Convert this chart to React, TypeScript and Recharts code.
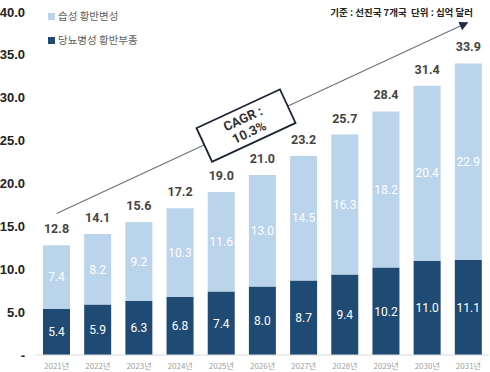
import React from 'react';
import { BarChart, Bar, XAxis, YAxis, LabelList, ReferenceLine } from 'recharts';

const years = ['2021년', '2022년', '2023년', '2024년', '2025년', '2026년', '2027년', '2028년', '2029년', '2030년', '2031년'];
const dmeValues = [5.4, 5.9, 6.3, 6.8, 7.4, 8.0, 8.7, 9.4, 10.2, 11.0, 11.1];
const amdValues = [7.4, 8.2, 9.2, 10.3, 11.6, 13.0, 14.5, 16.3, 18.2, 20.4, 22.9];
const totals = [12.8, 14.1, 15.6, 17.2, 19.0, 21.0, 23.2, 25.7, 28.4, 31.4, 33.9];
const yTicks = [0, 5, 10, 15, 20, 25, 30, 35, 40];
const trendStartValue = 16.5;
const trendEndValue = 38.8;
const cagrLines = ['CAGR :', '10.3%'];
const legendNames = ['습성 황반변성', '당뇨병성 황반부종'];
const noteText = '기준 : 선진국 7개국  단위 : 십억 달러';

const LIGHT = '#bad4ec';
const NAVY = '#1f4a73';
const KR = '"Noto Sans CJK KR", "Noto Sans", sans-serif';
const NUM = 'Roboto, "Noto Sans", sans-serif';

const data = years.map((year, i) => ({
  year,
  dme: dmeValues[i],
  amd: amdValues[i],
  total: totals[i],
}));

const TrendArrow = (props: any) => {
  const { x1, y1, x2, y2 } = props;
  if (x1 == null) return null;
  const dx = x2 - x1;
  const dy = y2 - y1;
  const len = Math.sqrt(dx * dx + dy * dy);
  const ux = dx / len;
  const uy = dy / len;
  const angle = (Math.atan2(dy, dx) * 180) / Math.PI;
  const headLen = 9;
  const headW = 4.5;
  const bx = x2 - ux * headLen;
  const by = y2 - uy * headLen;
  const px = -uy;
  const py = ux;
  const t = 0.46;
  const cx = x1 + dx * t;
  const cy = y1 + dy * t;
  const bw = 92;
  const bh = 37;
  return (
    <g>
      <line x1={x1} y1={y1} x2={bx} y2={by} stroke="#6b6f78" strokeWidth={1.1} />
      <polygon
        points={`${x2},${y2} ${bx + px * headW},${by + py * headW} ${bx - px * headW},${by - py * headW}`}
        fill="#1f2b4a"
      />
      <g transform={`translate(${cx},${cy}) rotate(${angle})`}>
        <rect x={-bw / 2} y={-bh / 2} width={bw} height={bh} fill="#ffffff" stroke="#1c2535" strokeWidth={1.8} />
        <text textAnchor="middle" fontFamily={NUM} fontWeight={700} fontSize={13} fill="#333">
          <tspan x={0} y={-3}>{cagrLines[0]}</tspan>
          <tspan x={0} y={12}>{cagrLines[1]}</tspan>
        </text>
      </g>
    </g>
  );
};

export default function App() {
  return (
    <div style={{ position: 'relative', width: 490, height: 372, background: '#fff' }}>
      <style>{'body{margin:0;}'}</style>
      <BarChart
        width={490}
        height={372}
        data={data}
        margin={{ top: 12, right: 1, left: 0, bottom: 0 }}
        barSize={27}
      >
        <XAxis
          dataKey="year"
          height={17}
          tickLine={false}
          tickSize={0}
          tickMargin={8}
          axisLine={{ stroke: '#d9d9d9' }}
          tick={{ fontSize: 8, fill: '#a0a0a0', fontFamily: KR }}
          interval={0}
        />
        <YAxis
          width={36}
          domain={[0, 40]}
          ticks={yTicks}
          axisLine={false}
          tickLine={false}
          tickSize={0}
          tickMargin={11}
          tick={{ fontSize: 13, fill: '#222', fontWeight: 700, fontFamily: '"Liberation Sans", Arial, sans-serif' }}
          tickFormatter={(v: number) => (v === 0 ? '-' : v.toFixed(1))}
        />
        <Bar dataKey="dme" stackId="a" fill={NAVY} isAnimationActive={false}>
          <LabelList
            dataKey="dme"
            position="center"
            formatter={(v: any) => Number(v).toFixed(1)}
            style={{ fill: '#ffffff', fontSize: 12, fontFamily: NUM }}
          />
        </Bar>
        <Bar dataKey="amd" stackId="a" fill={LIGHT} isAnimationActive={false}>
          <LabelList
            dataKey="amd"
            position="center"
            formatter={(v: any) => Number(v).toFixed(1)}
            style={{ fill: '#ffffff', fontSize: 12, fontFamily: NUM }}
          />
          <LabelList
            dataKey="total"
            position="top"
            offset={12}
            formatter={(v: any) => Number(v).toFixed(1)}
            style={{ fill: '#444', fontSize: 12.5, fontWeight: 700, fontFamily: NUM }}
          />
        </Bar>
        <ReferenceLine
          segment={[
            { x: years[0], y: trendStartValue },
            { x: years[years.length - 1], y: trendEndValue },
          ]}
          ifOverflow="visible"
          shape={TrendArrow}
        />
      </BarChart>
      <div style={{ position: 'absolute', left: 48, top: 8, fontFamily: KR, fontSize: 10.5, color: '#606060', lineHeight: '16px' }}>
        <div style={{ display: 'flex', alignItems: 'center' }}>
          <span style={{ display: 'inline-block', width: 7, height: 7, background: LIGHT, marginRight: 3 }} />
          {legendNames[0]}
        </div>
        <div style={{ display: 'flex', alignItems: 'center', marginTop: 8 }}>
          <span style={{ display: 'inline-block', width: 7, height: 7, background: NAVY, marginRight: 3 }} />
          {legendNames[1]}
        </div>
      </div>
      <div style={{ position: 'absolute', right: 17, top: 5, fontFamily: KR, fontSize: 9.5, fontWeight: 700, color: '#222', whiteSpace: 'pre' }}>
        {noteText}
      </div>
    </div>
  );
}
